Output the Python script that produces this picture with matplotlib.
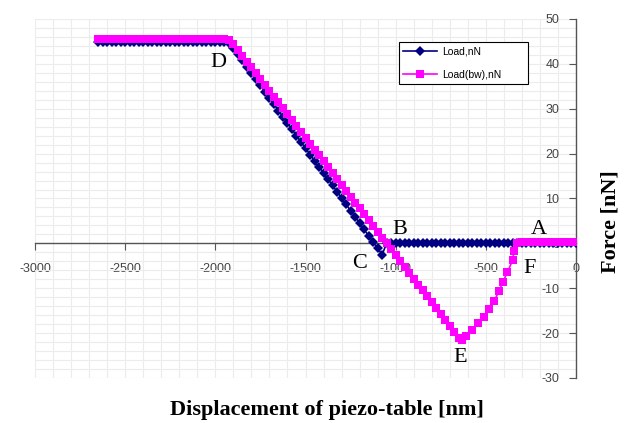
import matplotlib
matplotlib.use('Agg')
import matplotlib.pyplot as plt
from matplotlib.ticker import MultipleLocator

plt.rcParams['axes.unicode_minus'] = False

# displacement of piezo-table [nm] and force [nN]
displacement = [
    -2650, -2625, -2600, -2575, -2550, -2525, -2500, -2475, -2450, -2425,
    -2400, -2375, -2350, -2325, -2300, -2275, -2250, -2225, -2200, -2175,
    -2150, -2125, -2100, -2075, -2050, -2025, -2000, -1975, -1950, -1925,
    -1900, -1875, -1850, -1825, -1800, -1775, -1750, -1725, -1700, -1675,
    -1650, -1625, -1600, -1575, -1550, -1525, -1500, -1475, -1450, -1425,
    -1400, -1375, -1350, -1325, -1300, -1275, -1250, -1225, -1200, -1175,
    -1150, -1125, -1100, -1075, -1050, -1025, -1000, -975, -950, -925,
    -900, -875, -850, -825, -800, -775, -750, -725, -700, -675,
    -650, -625, -600, -575, -550, -525, -500, -475, -450, -425,
    -400, -375, -350, -325, -300, -275, -250, -225, -200, -175,
    -150, -125, -100, -75, -50, -25, 0]

load = [
    44.8, 44.8, 44.8, 44.8, 44.8, 44.8, 44.8, 44.8, 44.8, 44.8,
    44.8, 44.8, 44.8, 44.8, 44.8, 44.8, 44.8, 44.8, 44.8, 44.8,
    44.8, 44.8, 44.8, 44.8, 44.8, 44.8, 44.8, 44.8, 44.8, 44.6,
    43.6, 42.2, 40.8, 39.4, 38.0, 36.6, 35.2, 33.8, 32.4, 31.0,
    29.6, 28.2, 26.8, 25.4, 24.0, 22.6, 21.2, 19.8, 18.4, 17.0,
    15.7, 14.3, 12.9, 11.5, 10.1, 8.7, 7.3, 5.9, 4.5, 3.1,
    1.7, 0.3, -1.1, -2.5, 0.0, 0.0, 0.0, 0.0, 0.0, 0.0,
    0.0, 0.0, 0.0, 0.0, 0.0, 0.0, 0.0, 0.0, 0.0, 0.0,
    0.0, 0.0, 0.0, 0.0, 0.0, 0.0, 0.0, 0.0, 0.0, 0.0,
    0.0, 0.0, 0.0, 0.0, 0.0, 0.0, 0.0, 0.0, 0.0, 0.0,
    0.0, 0.0, 0.0, 0.0, 0.0, 0.0, 0.0]

displacement_bw = [
    -2650, -2625, -2600, -2575, -2550, -2525, -2500, -2475, -2450, -2425,
    -2400, -2375, -2350, -2325, -2300, -2275, -2250, -2225, -2200, -2175,
    -2150, -2125, -2100, -2075, -2050, -2025, -2000, -1975, -1950, -1925,
    -1900, -1875, -1850, -1825, -1800, -1775, -1750, -1725, -1700, -1675,
    -1650, -1625, -1600, -1575, -1550, -1525, -1500, -1475, -1450, -1425,
    -1400, -1375, -1350, -1325, -1300, -1275, -1250, -1225, -1200, -1175,
    -1150, -1125, -1100, -1075, -1050, -1025, -1000, -975, -950, -925,
    -900, -875, -850, -825, -800, -775, -750, -725, -700, -675,
    -650, -630, -611, -574, -546, -509, -481, -454, -426, -407,
    -380, -352, -343, -325, -300, -275, -250, -225, -200, -175,
    -150, -125, -100, -75, -50, -25, 0]

load_bw = [
    45.5, 45.5, 45.5, 45.5, 45.5, 45.5, 45.5, 45.5, 45.5, 45.5,
    45.5, 45.5, 45.5, 45.5, 45.5, 45.5, 45.5, 45.5, 45.5, 45.5,
    45.5, 45.5, 45.5, 45.5, 45.5, 45.5, 45.5, 45.5, 45.5, 45.3,
    44.4, 43.1, 41.8, 40.5, 39.2, 37.9, 36.6, 35.3, 34.0, 32.7,
    31.4, 30.1, 28.8, 27.4, 26.1, 24.8, 23.5, 22.2, 20.9, 19.6,
    18.3, 17.0, 15.7, 14.4, 13.1, 11.7, 10.4, 9.1, 7.8, 6.5,
    5.2, 3.9, 2.6, 1.3, 0.0, -1.3, -2.7, -4.0, -5.3, -6.6,
    -7.9, -9.2, -10.5, -11.8, -13.1, -14.4, -15.7, -17.0, -18.4, -19.7,
    -21.0, -21.5, -20.6, -19.2, -17.7, -16.5, -14.7, -12.8, -10.6, -8.7,
    -6.4, -3.8, -1.6, 0.1, 0.2, 0.2, 0.2, 0.2, 0.2, 0.2,
    0.2, 0.2, 0.2, 0.2, 0.2, 0.2, 0.2]

letters = ['D', 'B', 'C', 'A', 'F', 'E']
letter_x = [-1985, -976, -1198, -205, -255, -643]
letter_y = [40.2, 3.0, -4.4, 3.0, -5.5, -25.5]

fig = plt.figure(figsize=(6.27, 4.23), dpi=100)
ax = fig.add_axes([35/627, 1-378/423, 541/627, 359/423])

ax.set_xlim(-3000, 0)
ax.set_ylim(-30, 50)

ax.xaxis.set_major_locator(MultipleLocator(500))
ax.xaxis.set_minor_locator(MultipleLocator(100))
ax.yaxis.set_major_locator(MultipleLocator(10))
ax.yaxis.set_minor_locator(MultipleLocator(2))
ax.grid(True, which='both', color='#ececec', linewidth=0.8)
ax.set_axisbelow(True)

for s in ['top', 'right']:
    ax.spines[s].set_visible(False)
ax.spines['bottom'].set_position(('data', 0))
ax.spines['left'].set_position(('data', 0))
for s in ['bottom', 'left']:
    ax.spines[s].set_color('#555555')
    ax.spines[s].set_linewidth(1.0)

ax.tick_params(which='major', direction='out', length=5, color='#555555',
               labelsize=9, labelcolor='#444444')
ax.tick_params(axis='x', which='major', pad=9)
ax.tick_params(axis='y', which='major', pad=7)
ax.tick_params(which='minor', length=0)
for lab in ax.get_xticklabels() + ax.get_yticklabels():
    lab.set_family('Liberation Sans')

ax.plot(displacement, load, color='#000080', marker='D', markersize=4.8,
        markeredgewidth=0, linewidth=1.2, label='Load,nN', zorder=3)
ax.plot(displacement_bw, load_bw, color='#FF00FF', marker='s', markersize=5.5,
        markeredgewidth=0, linewidth=1.2, label='Load(bw),nN', zorder=4)

for t, x, y in zip(letters, letter_x, letter_y):
    ax.text(x, y, t, fontsize=16, family='Liberation Serif',
            ha='center', va='center', zorder=5)

leg = ax.legend(loc='center', bbox_to_anchor=(399/627, 1-88/423, 129/627, 50/423),
                bbox_transform=fig.transFigure, mode='expand', borderaxespad=0,
                fancybox=False, edgecolor='black', framealpha=1,
                prop={'family': 'Liberation Sans', 'size': 7.5},
                handlelength=3.2, handletextpad=0.5, labelspacing=1.3)
leg.get_frame().set_linewidth(0.8)

fig.text(327/627, 1-410/423, 'Displacement of piezo-table [nm]', ha='center',
         va='center', fontsize=16, fontweight='bold', family='Liberation Serif')
fig.text(610/627, 1-222/423, 'Force [nN]', ha='center', va='center',
         rotation=90, fontsize=16, fontweight='bold', family='Liberation Serif')

fig.savefig('out.png', dpi=100)
